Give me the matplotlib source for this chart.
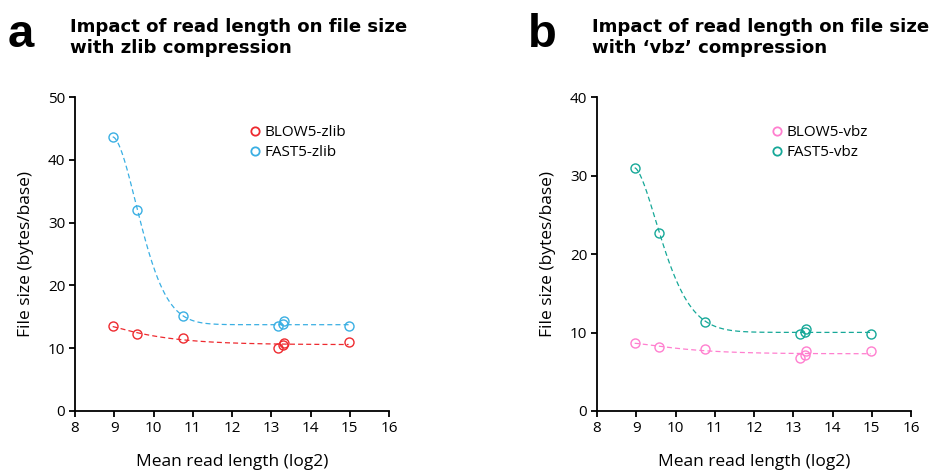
import numpy as np
import matplotlib
matplotlib.use("Agg")
import matplotlib.pyplot as plt
from matplotlib.lines import Line2D

# mean read length (log2) for the 7 datasets
read_len = [8.96, 9.59, 10.74, 13.17, 13.29, 13.32, 14.97]

blow5_zlib = [13.5, 12.3, 11.6, 10.0, 10.5, 10.9, 11.0]
fast5_zlib = [43.7, 32.0, 15.1, 13.5, 13.8, 14.3, 13.5]
blow5_vbz = [8.67, 8.12, 7.87, 6.80, 7.14, 7.61, 7.61]
fast5_vbz = [31.0, 22.7, 11.4, 9.78, 10.1, 10.5, 9.78]

xticks = [8, 9, 10, 11, 12, 13, 14, 15, 16]

C_BLOW5_ZLIB = "#ee2a2f"
C_FAST5_ZLIB = "#3aafe3"
C_BLOW5_VBZ = "#ff7fcf"
C_FAST5_VBZ = "#16a898"

plt.rcParams["font.family"] = ["Open Sans", "DejaVu Sans"]


def decay_fit(x, y):
    """y = c + a*exp(-k*(x-x0)^p), grid over k,p and least squares for a,c."""
    x = np.asarray(x, float)
    y = np.asarray(y, float)
    x0 = x.min()
    best = None
    for k in np.linspace(0.05, 4, 80):
        for p in np.linspace(1.0, 2.0, 21):
            e = np.exp(-k * (x - x0) ** p)
            A = np.column_stack([e, np.ones_like(e)])
            coef, *_ = np.linalg.lstsq(A, y, rcond=None)
            sse = np.sum((A @ coef - y) ** 2)
            if best is None or sse < best[0]:
                best = (sse, k, p, coef)
    _, k, p, (a, c) = best
    xs = np.linspace(x0, x.max(), 300)
    return xs, c + a * np.exp(-k * (xs - x0) ** p)


def panel(ax, series, ymax, ystep):
    for y, col, lab in series:
        xs, ys = decay_fit(read_len, y)
        ax.plot(xs, ys, ls=(0, (4, 2.5)), color=col, lw=0.9)
        ax.plot(read_len, y, "o", mfc="none", mec=col, ms=6.5, mew=1.0)
    ax.set_xlim(8, 16)
    ax.set_ylim(0, ymax)
    ax.set_xticks(xticks)
    ax.set_yticks(np.arange(0, ymax + 1, ystep))
    for s in ["top", "right"]:
        ax.spines[s].set_visible(False)
    ax.spines["left"].set_linewidth(1.3)
    ax.spines["bottom"].set_linewidth(1.3)
    ax.tick_params(direction="out", length=4, width=1.3, labelsize=11, pad=3)
    ax.set_xlabel("Mean read length (log2)", fontsize=12.5, labelpad=13)
    ax.set_ylabel("File size (bytes/base)", fontsize=12.5, labelpad=10)
    handles = [Line2D([], [], ls="none", marker="o", mfc="none", mec=col,
                      ms=6, mew=1.3, label=lab) for _, col, lab in series]
    ax.legend(handles=handles, loc="upper left", bbox_to_anchor=(0.53, 0.93),
              frameon=False, fontsize=11, handletextpad=0.1,
              labelspacing=0.35, borderaxespad=0, handlelength=1.0)


fig = plt.figure(figsize=(9.38, 4.71), dpi=100)
W, H = 938, 471
axa = fig.add_axes([75 / W, 1 - 411 / H, 314 / W, 314 / H])
axb = fig.add_axes([597 / W, 1 - 411 / H, 314 / W, 314 / H])

panel(axa, [(blow5_zlib, C_BLOW5_ZLIB, "BLOW5-zlib"),
            (fast5_zlib, C_FAST5_ZLIB, "FAST5-zlib")], 50, 10)
panel(axb, [(blow5_vbz, C_BLOW5_VBZ, "BLOW5-vbz"),
            (fast5_vbz, C_FAST5_VBZ, "FAST5-vbz")], 40, 10)

lfont = dict(family=["Liberation Sans", "DejaVu Sans"], fontweight="bold")
tfont = dict(family=["DejaVu Sans"], fontweight="bold")
fig.text(8 / W, 1 - 47 / H, "a", fontsize=34, va="baseline", **lfont)
fig.text(70 / W, 1 - 53 / H, "Impact of read length on file size\nwith zlib compression",
         fontsize=13.1, va="baseline", linespacing=1.25, **tfont)
fig.text(528 / W, 1 - 47 / H, "b", fontsize=34, va="baseline", **lfont)
fig.text(592 / W, 1 - 53 / H, "Impact of read length on file size\nwith \u2018vbz\u2019 compression",
         fontsize=13.1, va="baseline", linespacing=1.25, **tfont)

fig.savefig("out.png", dpi=100)
